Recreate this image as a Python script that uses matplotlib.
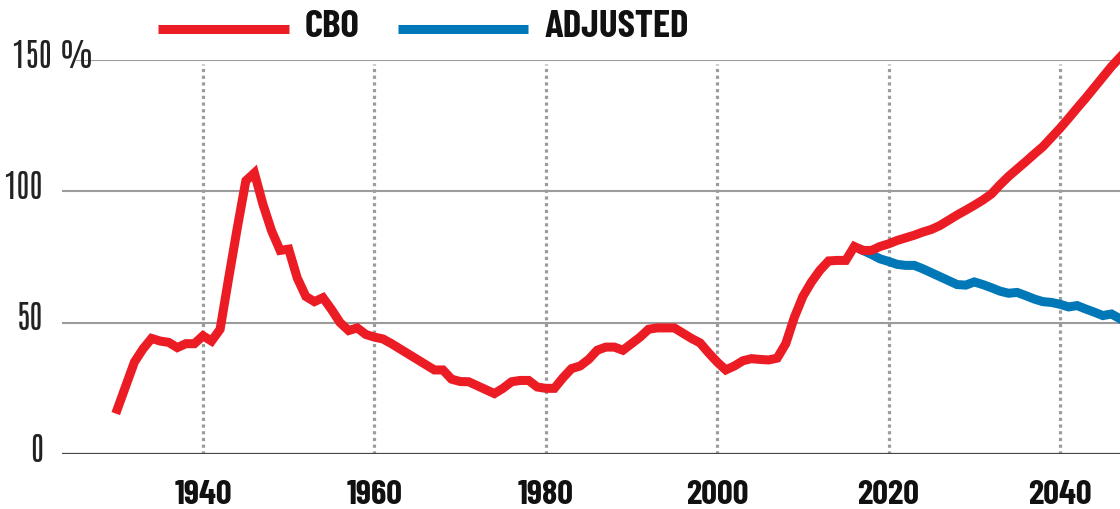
import matplotlib
matplotlib.use("Agg")
import matplotlib.pyplot as plt
import matplotlib.transforms as mtransforms
from matplotlib.lines import Line2D

plt.rcParams['font.family'] = ['Barlow Condensed', 'DejaVu Sans']

# debt held by the public, % of GDP
cbo_years = list(range(1930, 2048))
cbo_values = [
    17, 26, 35, 40, 44, 43, 42.5, 40.5, 42, 42,            # 1930s
    45, 43, 47.5, 67, 86, 104, 107, 95, 85, 77.5,          # 1940s
    78, 67, 60, 58, 59.5, 55, 50, 47, 48, 45.5,            # 1950s
    44.5, 43.8, 42, 40, 38, 36, 34, 32, 32, 28.5,          # 1960s
    27.6, 27.5, 26, 24.5, 23, 25, 27.5, 28, 28, 25.5,      # 1970s
    25, 25, 29, 32.5, 33.5, 36, 39.5, 40.7, 40.7, 39.5,    # 1980s
    42, 44.5, 47.5, 48, 48, 48, 46, 44, 42.3, 38.5,        # 1990s
    35, 32, 33.5, 35.5, 36.3, 36, 35.8, 36.5, 42, 52,      # 2000s
    60, 65.5, 70, 73.5, 73.7, 73.7, 79, 77.5, 77.5, 79,    # 2010s
    80, 81.3, 82.3, 83.3, 84.5, 85.5, 87, 89, 91, 92.8,    # 2020s
    94.7, 96.7, 99, 102.5, 105.7, 108.5, 111.3, 114.2, 117, 120.5,
    124, 127.8, 131.7, 135.5, 139.5, 143.5, 147.5, 151,
]

adj_years = list(range(2017, 2048))
adj_values = [
    77.5, 76, 74.3, 73.3, 72.2, 71.8, 71.8, 70.5, 69, 67.5,
    66, 64.5, 64.3, 65.5, 64.5, 63.3, 62, 61.2, 61.5, 60.3,
    59, 58, 57.7, 57, 56, 56.5, 55.2, 54, 52.7, 53.3, 51.5,
]

y_ticks = [0, 50, 100, 150]
y_labels = ['0', '50', '100', '150 %']
x_ticks = [1940, 1960, 1980, 2000, 2020, 2040]

RED = '#EC1C24'
BLUE = '#0077B6'
GRID = '#9c9c9c'

W, H = 1120, 510
fig = plt.figure(figsize=(W / 100, H / 100), dpi=100)
ax = fig.add_axes([62 / W, 55 / H, 1 - 62 / W, 394 / H])
ax.set_xlim(1923.55, 2047.0)
ax.set_ylim(0, 150)
for s in ax.spines.values():
    s.set_visible(False)
ax.set_yticks([])

# horizontal grid
for v in y_ticks[1:]:
    x0 = 1925.3 if v == 150 else 1923.55
    ax.plot([x0, 2047.0], [v, v], color=GRID, lw=1.5, zorder=1)
ax.plot([1923.55, 2047.0], [0, 0], color='#444444', lw=1.6, zorder=3)

# dotted verticals
for x in x_ticks:
    ax.plot([x, x], [0, 148.5], color=GRID, lw=2.3, linestyle=(0, (1, 1.1)),
            dash_capstyle='butt', zorder=1)

ax.plot(adj_years, adj_values, color=BLUE, lw=6.5, solid_joinstyle='miter',
        clip_on=False, zorder=4)
ax.plot(cbo_years, cbo_values, color=RED, lw=6.5, solid_joinstyle='miter',
        clip_on=False, zorder=5)

# y labels
tr = mtransforms.blended_transform_factory(fig.transFigure, ax.transData)
for v, lab in zip(y_ticks, y_labels):
    if v == 150:
        ax.text(12 / W, v - 2.6, lab, transform=tr, ha='left', va='baseline',
                fontsize=23, family=['Antonio', 'Barlow Condensed'],
                fontweight='light', color='#222222')
    else:
        ax.text(43 / W, v - 2.6, lab, transform=tr, ha='right', va='baseline',
                fontsize=23, family=['Antonio', 'Barlow Condensed'],
                fontweight='light', color='#222222')

ax.set_xticks(x_ticks)
ax.set_xticklabels([str(x) for x in x_ticks], fontsize=25, fontweight='bold',
                   color='#111111')
ax.tick_params(axis='x', length=0, pad=35)
for lbl in ax.get_xticklabels():
    lbl.set_va('baseline')

# legend
def px(x, y):
    return x / W, 1 - y / H

for (x0, x1, col, xt, lab) in [(158, 289, RED, 305, 'CBO'),
                                (398, 528, BLUE, 545, 'ADJUSTED')]:
    (a, b), (c, _) = px(x0, 29.5), px(x1, 29.5)
    fig.add_artist(Line2D([a, c], [b, b], color=col, lw=6.5,
                          solid_capstyle='butt', transform=fig.transFigure))
    tx, ty = px(xt, 37)
    fig.text(tx, ty, lab, ha='left', va='baseline', fontsize=28,
             fontweight='bold', color='#111111')

fig.savefig('out.png', dpi=100)
